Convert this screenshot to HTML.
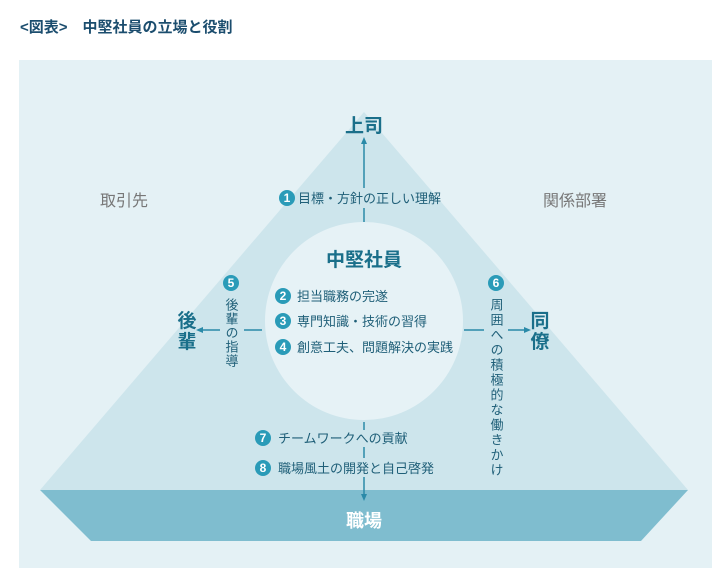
<!DOCTYPE html>
<html><head><meta charset="utf-8"><style>
body{margin:0;background:#fff;}
svg text{font-family:"Liberation Sans","Noto Sans CJK JP",sans-serif;}
</style></head><body>
<svg width="728" height="576" viewBox="0 0 728 576" xmlns="http://www.w3.org/2000/svg">
<text x="20" y="32" font-size="15" font-weight="bold" fill="#1b4d6e">&lt;図表&gt;　中堅社員の立場と役割</text>
<rect x="19" y="60" width="693" height="508" fill="#e4f1f5"/>
<polygon points="364,112 40,490 688,490" fill="#cde5ec"/>
<polygon points="40,490 688,490 641,541 91,541" fill="#7fbdcf"/>
<circle cx="364" cy="321" r="99" fill="#e6f2f6"/>
<g fill="#1a6f8a" font-weight="bold">
<text x="364" y="132" font-size="19" text-anchor="middle">上司</text>
<text x="364" y="266" font-size="19" text-anchor="middle">中堅社員</text>
<text x="187" y="327" font-size="19" text-anchor="middle">後</text>
<text x="187" y="348" font-size="19" text-anchor="middle">輩</text>
<text x="540" y="327" font-size="19" text-anchor="middle">同</text>
<text x="540" y="348" font-size="19" text-anchor="middle">僚</text>
</g>
<text x="124" y="206" font-size="16" fill="#777" text-anchor="middle">取引先</text>
<text x="575" y="206" font-size="16" fill="#777" text-anchor="middle">関係部署</text>
<text x="364" y="527" font-size="18" font-weight="bold" fill="#fff" text-anchor="middle">職場</text>
<g stroke="#2a8aa8" stroke-width="1.5" fill="none">
<line x1="364" y1="142" x2="364" y2="188"/>
<line x1="364" y1="208" x2="364" y2="222"/>
<line x1="262" y1="330" x2="244" y2="330"/>
<line x1="220" y1="330" x2="200" y2="330"/>
<line x1="464" y1="330" x2="484" y2="330"/>
<line x1="508" y1="330" x2="526" y2="330"/>
<line x1="364" y1="422" x2="364" y2="430"/>
<line x1="364" y1="447" x2="364" y2="458"/>
<line x1="364" y1="477" x2="364" y2="496"/>
</g>
<g fill="#2a8aa8">
<polygon points="364,137 361,144 367,144"/>
<polygon points="196,330 203,327 203,333"/>
<polygon points="531,330 524,327 524,333"/>
<polygon points="364,501 361,494 367,494"/>
</g>
<g fill="#2a9bb8">
<circle cx="287" cy="198" r="8"/>
<circle cx="283" cy="296" r="8"/>
<circle cx="283" cy="321" r="8"/>
<circle cx="283" cy="347" r="8"/>
<circle cx="231" cy="283" r="8"/>
<circle cx="496" cy="283" r="8"/>
<circle cx="263" cy="438" r="8"/>
<circle cx="263" cy="468" r="8"/>
</g>
<g fill="#fff" font-size="12" font-weight="bold" text-anchor="middle">
<text x="287" y="202">1</text><text x="283" y="300">2</text><text x="283" y="325">3</text><text x="283" y="351">4</text>
<text x="231" y="287">5</text><text x="496" y="287">6</text><text x="263" y="442">7</text><text x="263" y="472">8</text>
</g>
<g fill="#1f5f78" font-size="13">
<text x="298" y="203">目標・方針の正しい理解</text>
<text x="297" y="301">担当職務の完遂</text>
<text x="297" y="326">専門知識・技術の習得</text>
<text x="297" y="352">創意工夫、問題解決の実践</text>
<text x="278" y="443">チームワークへの貢献</text>
<text x="278" y="473">職場風土の開発と自己啓発</text>
</g>
<text x="231" y="298" font-size="13" fill="#1f5f78" style="writing-mode:vertical-rl" text-anchor="start" letter-spacing="1">後輩の指導</text>
<text x="496" y="298" font-size="13" fill="#1f5f78" style="writing-mode:vertical-rl" text-anchor="start" letter-spacing="2">周囲への積極的な働きかけ</text>
</svg>
</body></html>
